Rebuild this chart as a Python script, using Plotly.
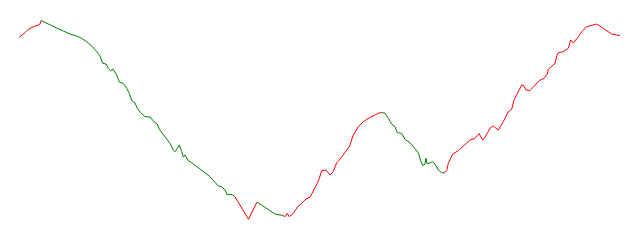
import plotly.graph_objects as go

# Series: day index and value
day = [
    -0.7, 1.7, 5, 8.3, 11.7, 15, 18.3, 20, 21,
    23.3, 30, 36.7, 43.3, 50, 56.7, 61.7, 66.7, 71.7, 76.7,
    80, 82.7, 86, 88.3, 90.7, 93.3, 96.7, 99.3, 103.3, 106.7,
    109.3, 111.7, 115, 117.3, 120.7, 125, 130, 134, 137.3, 139.3,
    145, 150, 153.3, 155, 157.3, 159.3, 161.7, 163.3, 165, 168.3,
    171.7, 176.7, 183.3, 190, 195, 198.3, 201.7, 205, 207.3, 210,
    212.7, 215,
    228.5, 237,
    243.3, 250, 255, 260, 262.7,
    265, 267.3, 269.3, 273.3, 278.3, 280, 286, 290, 295, 297.3,
    299.3, 301.7, 306, 310, 313.3, 316.7, 319.3, 325, 329.3, 333.3,
    338.3, 343.3, 350, 355, 358.3, 361.7,
    365, 368.3, 371.7, 375, 377.3, 381.7, 385, 390, 395, 398.3,
    401, 402.7, 404, 405, 406, 407.3, 410, 412.7, 415, 418.3,
    421.7, 424.3,
    426.7, 428.3, 432.7, 438.3, 443.3, 450, 455, 459, 462.7, 465,
    470, 473.3, 478.3, 483.3, 488.3, 491.7, 494, 497.3, 501.7, 504,
    506, 510, 515, 519.3, 524, 527.3, 528.3, 531.7, 535, 536.7,
    538.3, 543.3, 548.3, 550.7, 553.3, 558.3, 561.7, 566.7, 571.7, 576.7,
    581.7, 586.7, 591.7, 596.7, 600,
]
value = [
    182.7, 184.3, 187.3, 190.7, 192.7, 194, 195, 196, 199.5,
    198.3, 195.5, 192, 189, 186, 184, 181.7, 178.3, 174, 168.5,
    164, 156.7, 156, 151.7, 149.3, 150.7, 145, 138, 136.5, 131.7,
    126.7, 119.5, 117, 111.7, 107.3, 103.3, 103, 98.3, 96, 90.7,
    83.3, 76.7, 70, 68.3, 71.7, 75, 68.3, 63, 65, 59.3,
    57.3, 53.3, 48.3, 43.3, 37.7, 34, 33.3, 30, 25, 26,
    25, 23.3,
    0.7, 18,
    14, 9, 6, 5, 4.7,
    3.3, 6.5, 3.3, 6.7, 14, 15, 21, 22.7, 31.7, 36.7,
    41.7, 49.3, 50, 45, 48.3, 57.3, 60, 67.3, 73.3, 85,
    93.3, 98.3, 102.7, 105, 106.7, 107.5,
    106.7, 101.7, 96, 93.3, 87.3, 86.7, 80.7, 77.3, 71.7, 67.3,
    58.3, 54.5, 55, 56, 61.7, 56, 57.3, 58.3, 56, 50,
    47.3, 47,
    49.5, 56.7, 66, 69.3, 74, 80, 81.7, 86.5, 80, 82.7,
    91.7, 94, 90, 98.3, 108.3, 110.7, 120, 126.7, 135, 134,
    130, 129.5, 135, 139.3, 141.7, 146, 150.7, 154, 156.5, 164,
    167.3, 168.3, 171.7, 180, 177, 183.3, 188.3, 193.3, 195, 196,
    192.7, 189.5, 186, 185, 184.5,
]

# Days at which the line colour changes, and the colour of each stretch
turn_days = [21, 215, 237, 262.7, 361.7, 424.3]
segment_colors = ["red", "green", "red", "green", "red", "green", "red"]

fig = go.Figure()
bounds = [0] + [day.index(d) for d in turn_days] + [len(day) - 1]
for i, color in enumerate(segment_colors):
    a, b = bounds[i], bounds[i + 1]
    fig.add_trace(go.Scatter(
        x=day[a:b + 1], y=value[a:b + 1], mode="lines",
        line=dict(color=color, width=1), hoverinfo="skip",
    ))

fig.update_layout(
    width=640, height=240,
    margin=dict(l=0, r=0, t=0, b=0),
    paper_bgcolor="white", plot_bgcolor="white",
    showlegend=False,
    xaxis=dict(visible=False, range=[-20, 620]),
    yaxis=dict(visible=False, range=[-20, 220]),
)
fig.write_html("out.html")
